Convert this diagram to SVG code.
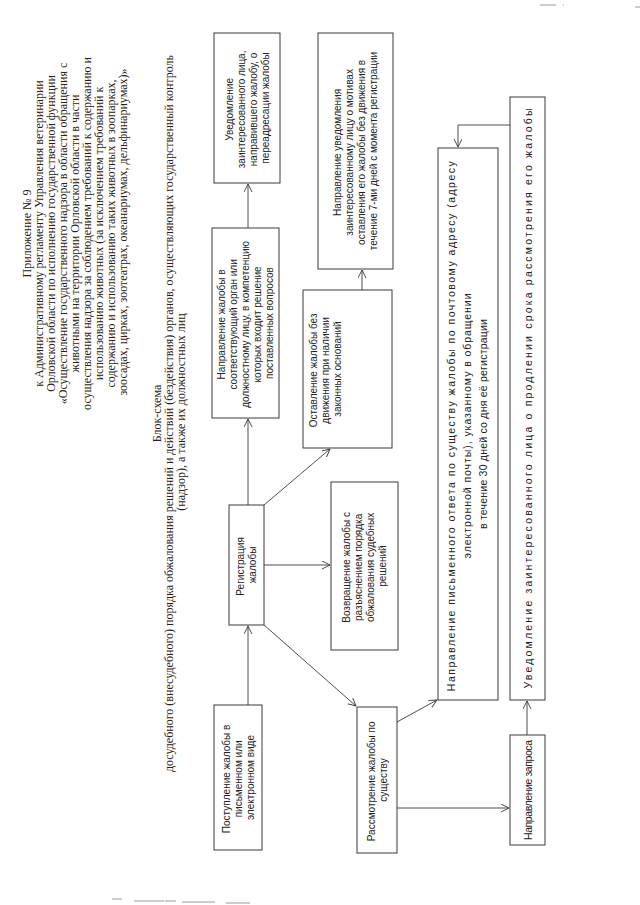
<svg xmlns="http://www.w3.org/2000/svg" width="640" height="905" viewBox="0 0 640 905">
<style>
.bg{fill:#ffffff}
.box{fill:none;stroke:#3a3a3a;stroke-width:1}
.t{font-family:"Liberation Sans",Arial,sans-serif;font-size:10px;fill:#222}
.tl{font-family:"Liberation Sans",Arial,sans-serif;font-size:10.5px;fill:#222}
.h{font-family:"Liberation Serif","Times New Roman",serif;font-size:12px;fill:#222}
.ln{fill:none;stroke:#3a3a3a;stroke-width:0.9;marker-end:url(#arr)}
.art{fill:none;stroke:#999;stroke-width:1.2}
</style>
<defs>
<marker id="arr" markerUnits="userSpaceOnUse" markerWidth="10" markerHeight="10" refX="8" refY="4" orient="auto">
<path d="M0,0 L8,4 L0,8" fill="none" stroke="#3a3a3a" stroke-width="0.9"/>
</marker>
</defs>
<rect class="bg" x="0" y="0" width="640" height="905"/>

<g id="header">
<text class="h" transform="rotate(-90)" text-anchor="middle">
<tspan x="-232" y="31">Приложение № 9</tspan>
<tspan x="-232" y="43">к Административному регламенту Управления ветеринарии</tspan>
<tspan x="-232" y="55">Орловской области по исполнению государственной функции</tspan>
<tspan x="-232" y="67">«Осуществление государственного надзора в области обращения с</tspan>
<tspan x="-232" y="79">животными на территории Орловской области в части</tspan>
<tspan x="-232" y="91">осуществления надзора за соблюдением требований к содержанию и</tspan>
<tspan x="-232" y="103">использованию животных (за исключением требований к</tspan>
<tspan x="-232" y="115">содержанию и использованию таких животных в зоопарках,</tspan>
<tspan x="-232" y="127">зоосадах, цирках, зоотеатрах, океанариумах, дельфинариумах)»</tspan>
</text>
</g>

<g id="title">
<text class="h" transform="rotate(-90)" text-anchor="middle">
<tspan x="-412" y="161">Блок-схема</tspan>
<tspan x="-412" y="173">досудебного (внесудебного) порядка обжалования решений и действий (бездействия) органов, осуществляющих государственный контроль</tspan>
<tspan x="-412" y="185">(надзор), а также их должностных лиц</tspan>
</text>
</g>

<g id="n-postuplenie">
<rect class="box" x="214" y="705" width="48" height="145"/>
<text class="t" transform="translate(238,777.5) rotate(-90)" text-anchor="middle">
<tspan x="0" y="-8.5">Поступление жалобы в</tspan>
<tspan x="0" y="3.5">письменном или</tspan>
<tspan x="0" y="15.5">электронном виде</tspan>
</text>
</g>

<g id="n-registraciya">
<rect class="box" x="229" y="505" width="35" height="120"/>
<text class="t" transform="translate(246.5,565) rotate(-90)" text-anchor="middle">
<tspan x="0" y="-2.5">Регистрация</tspan>
<tspan x="0" y="9.5">жалобы</tspan>
</text>
</g>

<g id="n-napravlenie-organ">
<rect class="box" x="212" y="228" width="67" height="190"/>
<text class="t" transform="translate(245.5,323) rotate(-90)" text-anchor="middle">
<tspan x="0" y="-20.5">Направление жалобы в</tspan>
<tspan x="0" y="-8.5">соответствующий орган или</tspan>
<tspan x="0" y="3.5">должностному лицу, в компетенцию</tspan>
<tspan x="0" y="15.5">которых входит решение</tspan>
<tspan x="0" y="27.5">поставленных вопросов</tspan>
</text>
</g>

<g id="n-uvedomlenie-pereadr">
<rect class="box" x="214" y="33" width="66" height="150"/>
<text class="t" transform="translate(247,108) rotate(-90)" text-anchor="middle">
<tspan x="0" y="-14.5">Уведомление</tspan>
<tspan x="0" y="-2.5">заинтересованного лица,</tspan>
<tspan x="0" y="9.5">направившего жалобу, о</tspan>
<tspan x="0" y="21.5">переадресации жалобы</tspan>
</text>
</g>

<g id="n-vozvrashchenie">
<rect class="box" x="331" y="482" width="67" height="168"/>
<text class="t" transform="translate(364.5,566) rotate(-90)" text-anchor="middle">
<tspan x="0" y="-14.5">Возвращение жалобы с</tspan>
<tspan x="0" y="-2.5">разъяснением порядка</tspan>
<tspan x="0" y="9.5">обжалования судебных</tspan>
<tspan x="0" y="21.5">решений</tspan>
</text>
</g>

<g id="n-ostavlenie">
<rect class="box" x="303" y="290" width="89" height="158"/>
<text class="t" transform="translate(325,369) rotate(-90)" text-anchor="middle">
<tspan x="0" y="-8.5">Оставление жалобы без</tspan>
<tspan x="0" y="3.5">движения при наличии</tspan>
<tspan x="0" y="15.5">законных оснований</tspan>
</text>
</g>

<g id="n-napravlenie-uvedoml">
<rect class="box" x="318" y="33" width="75" height="236"/>
<text class="t" transform="translate(355.5,151) rotate(-90)" text-anchor="middle">
<tspan x="0" y="-14.5">Направление уведомления</tspan>
<tspan x="0" y="-2.5">заинтересованному лицу о мотивах</tspan>
<tspan x="0" y="9.5">оставления его жалобы без движения в</tspan>
<tspan x="0" y="21.5">течение 7-ми дней с момента регистрации</tspan>
</text>
</g>

<g id="n-rassmotrenie">
<rect class="box" x="357" y="707" width="40" height="146"/>
<text class="t" transform="translate(377,780) rotate(-90)" text-anchor="middle">
<tspan x="0" y="-2.5">Рассмотрение жалобы по</tspan>
<tspan x="0" y="9.5">существу</tspan>
</text>
</g>

<g id="n-otvet">
<rect class="box" x="438" y="148" width="60" height="552"/>
<text class="tl" transform="translate(468,424) rotate(-90)" text-anchor="middle">
<tspan x="0" y="-13" textLength="530" lengthAdjust="spacing">Направление письменного ответа по существу жалобы по почтовому адресу (адресу</tspan>
<tspan x="0" y="3" textLength="265" lengthAdjust="spacing">электронной почты), указанному в обращении</tspan>
<tspan x="0" y="19" textLength="210" lengthAdjust="spacing">в течение 30 дней со дня её регистрации</tspan>
</text>
</g>

<g id="n-zapros">
<rect class="box" x="510" y="735" width="35" height="110"/>
<text class="tl" transform="translate(527.5,790) rotate(-90)" text-anchor="middle">
<tspan x="0" y="4" textLength="100" lengthAdjust="spacing">Направление запроса</tspan>
</text>
</g>

<g id="n-prodlenie">
<rect class="box" x="510" y="97" width="35" height="603"/>
<text class="tl" transform="translate(527.5,398.5) rotate(-90)" text-anchor="middle">
<tspan x="0" y="4" textLength="580" lengthAdjust="spacing">Уведомление заинтересованного лица о продлении срока рассмотрения его жалобы</tspan>
</text>
</g>

<g id="connectors">
<path class="ln" d="M248,705 L248,626"/>
<path class="ln" d="M248,505 L248,419"/>
<path class="ln" d="M248,228 L248,184"/>
<path class="ln" d="M264,505 L330,449"/>
<path class="ln" d="M264,565 L330,565"/>
<path class="ln" d="M264,625 L356,706"/>
<path class="ln" d="M362,290 L362,270"/>
<path class="ln" d="M397,722 L437,700"/>
<path class="ln" d="M397,808 L509,808"/>
<path class="ln" d="M527,735 L527,701"/>
<path class="ln" d="M510,125 L458,125 L458,147"/>
</g>

<g id="scan-marks">
<path class="art" d="M540,5 L556,5 M563,5 L564,5 M635,7 L640,7"/>
<path class="art" d="M112,899 L122,899 M134,901 L164,901 M165,901 L176,901 M182,902 L215,902 M226,903 L250,903"/>
</g>
</svg>
